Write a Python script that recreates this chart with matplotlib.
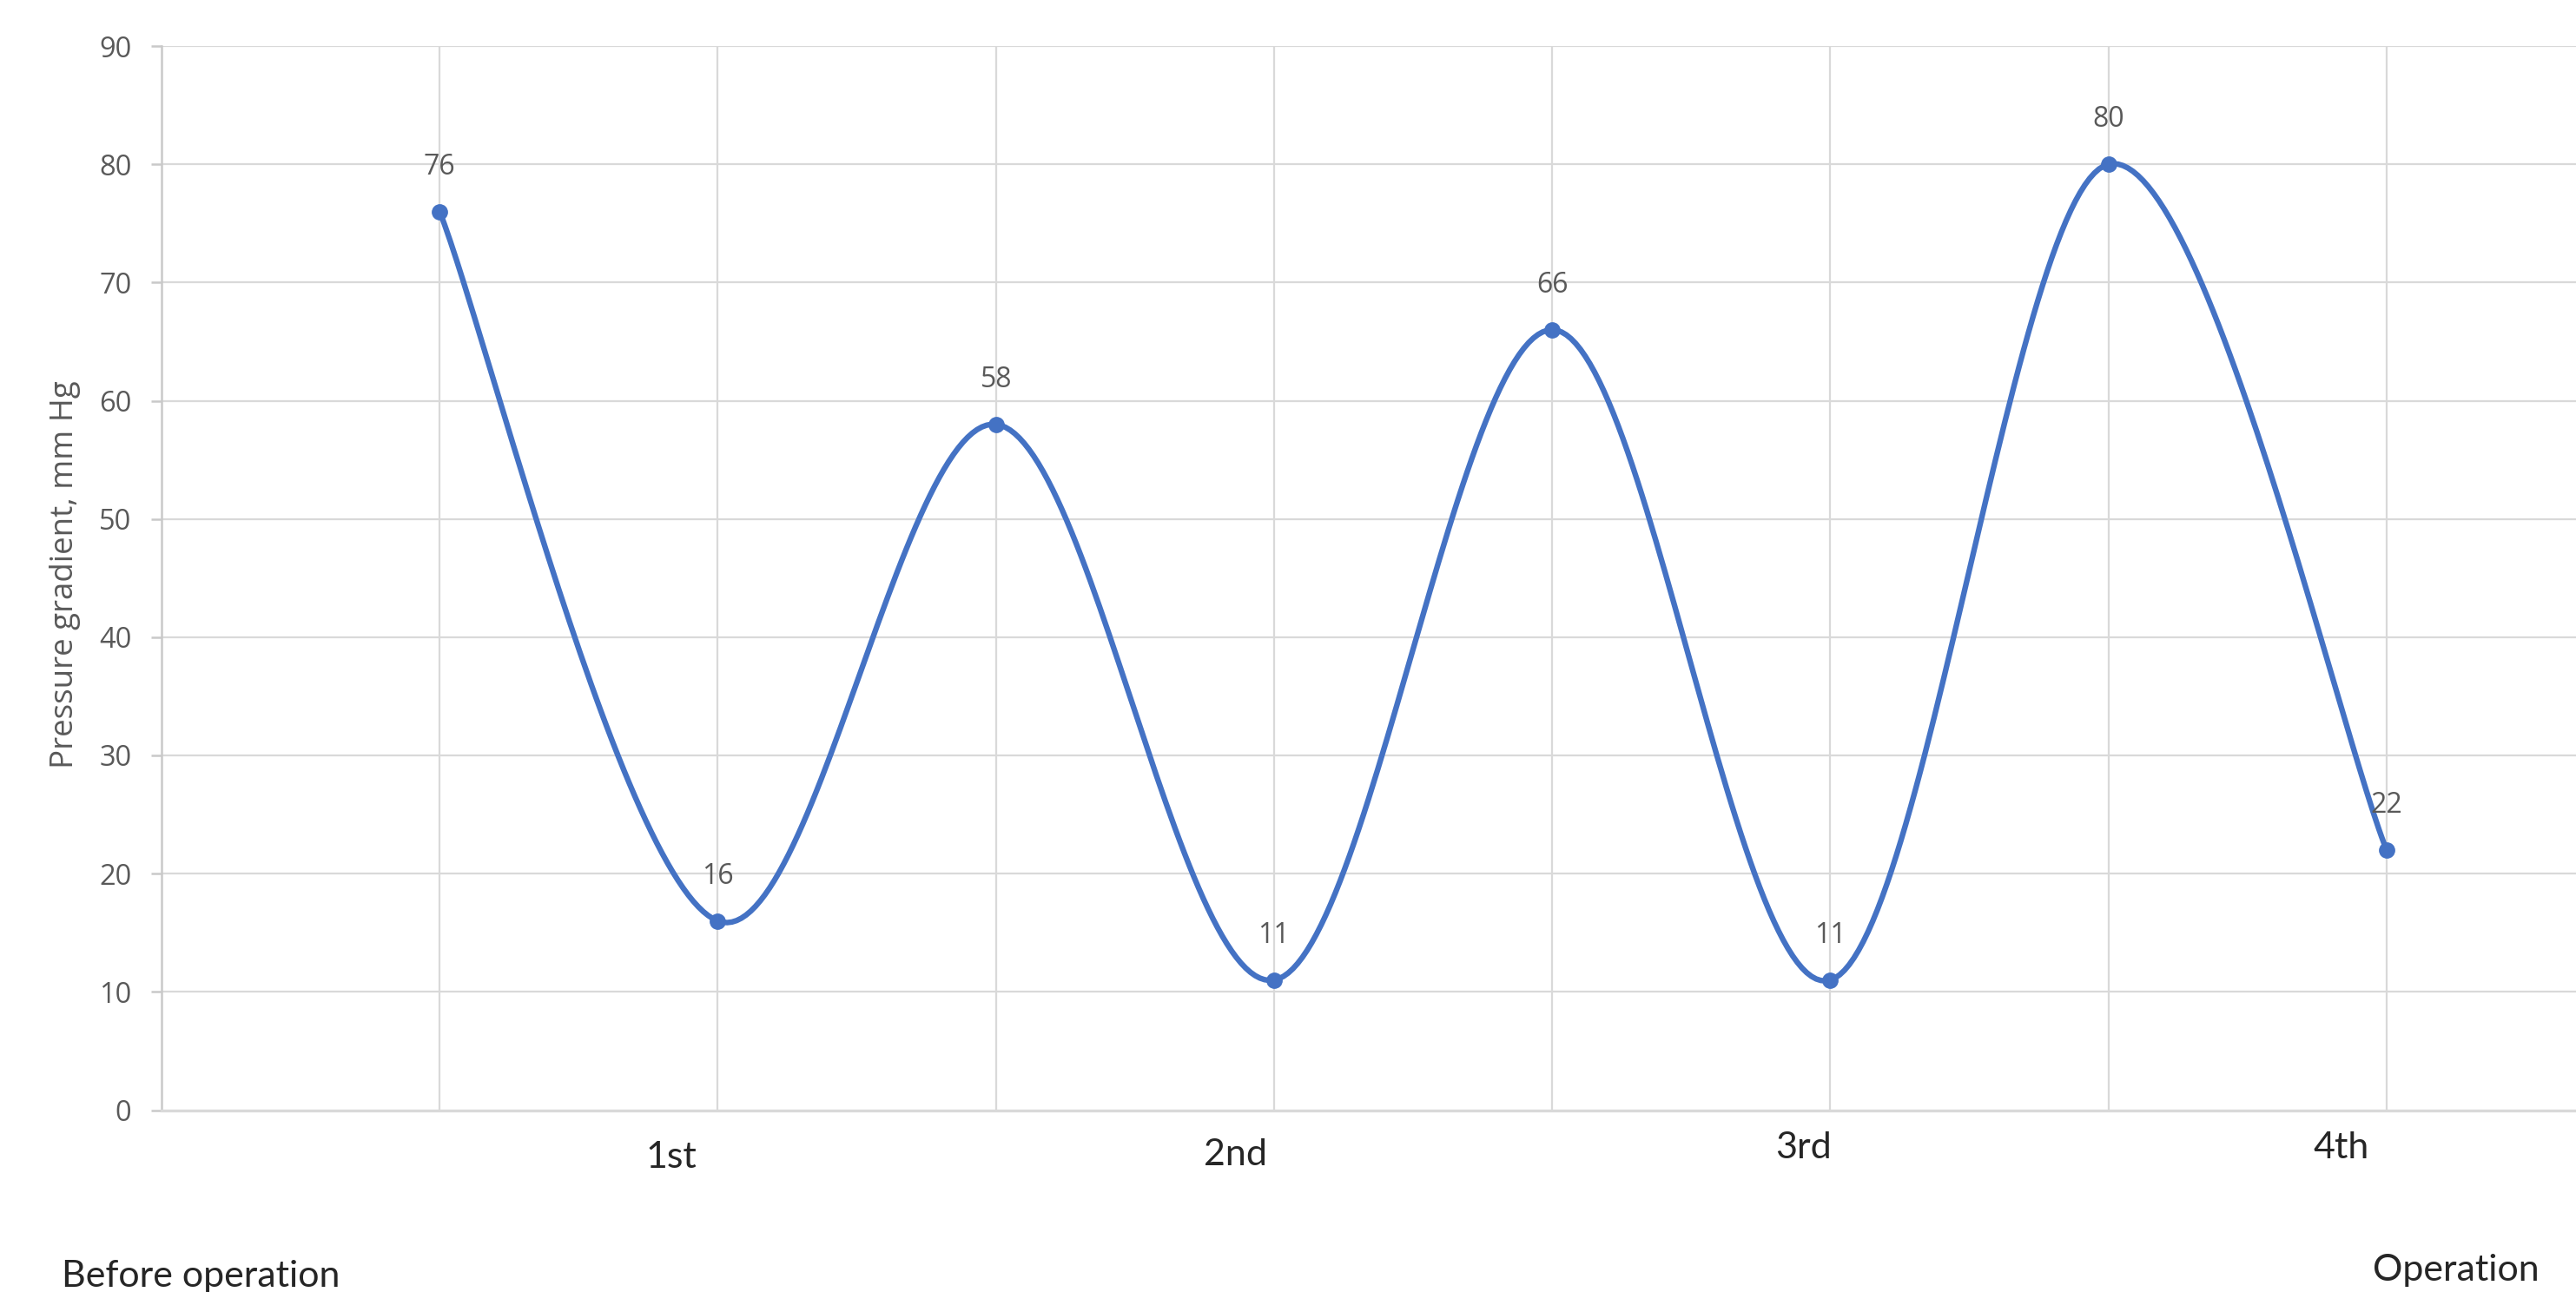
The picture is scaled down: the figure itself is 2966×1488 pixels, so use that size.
import numpy as np
import matplotlib
matplotlib.use("Agg")
import matplotlib.pyplot as plt

# ---- data ----
positions = [1, 2, 3, 4, 5, 6, 7, 8]
values = [76, 16, 58, 11, 66, 11, 80, 22]
y_ticks = [0, 10, 20, 30, 40, 50, 60, 70, 80, 90]
stage_labels = ["1st", "2nd", "3rd", "4th"]
y_label = "Pressure gradient, mm Hg"
left_note = "Before operation"
right_note = "Operation"

W, H = 2966, 1488
DPI = 100
fig = plt.figure(figsize=(W / DPI, H / DPI), dpi=DPI)
fig.patch.set_facecolor("white")

unit_px = 320.24
left_px, top_px, bottom_px = 186.0, 53.0, 1278.5
ax = fig.add_axes([left_px / W, 1 - bottom_px / H, 9 * unit_px / W, (bottom_px - top_px) / H])
ax.set_xlim(0, 9)
ax.set_ylim(0, 90)

grid_c = "#D9D9D9"
axis_c = "#C9C9C9"
for v in y_ticks[1:]:
    ax.axhline(v, color=grid_c, lw=1.6, zorder=1)
for p in positions:
    ax.axvline(p, color=grid_c, lw=1.6, zorder=1)

for s in ["top", "right"]:
    ax.spines[s].set_visible(False)
ax.spines["left"].set_color(axis_c)
ax.spines["left"].set_linewidth(1.8)
ax.spines["bottom"].set_color(grid_c)
ax.spines["bottom"].set_linewidth(2.4)

ax.set_yticks(y_ticks)
ax.set_yticklabels([str(v) for v in y_ticks])
ax.tick_params(axis="y", length=9, width=1.8, color=axis_c, pad=16,
               labelsize=23.5, labelcolor="#595959")
for t in ax.get_yticklabels():
    t.set_family("Open Sans")
ax.set_xticks([])

# Excel-like smoothed line (Bezier with 1/6 tangents)
x = np.array(positions, dtype=float)
y = np.array(values, dtype=float)
n = len(x)
xs, ys = [], []
tt = np.linspace(0, 1, 60)
for i in range(n - 1):
    p0 = np.array([x[i], y[i]])
    p3 = np.array([x[i + 1], y[i + 1]])
    pm = np.array([x[i - 1], y[i - 1]]) if i > 0 else p0
    pp = np.array([x[i + 2], y[i + 2]]) if i + 2 < n else p3
    c1 = p0 + (p3 - pm) / 6.0
    c2 = p3 - (pp - p0) / 6.0
    b = ((1 - tt) ** 3)[:, None] * p0 + (3 * (1 - tt) ** 2 * tt)[:, None] * c1 \
        + (3 * (1 - tt) * tt ** 2)[:, None] * c2 + (tt ** 3)[:, None] * p3
    xs.extend(b[:, 0])
    ys.extend(b[:, 1])

line_c = "#4472C4"
ax.plot(xs, ys, color=line_c, lw=4.6, zorder=3, solid_capstyle="round")
ax.plot(x, y, "o", color=line_c, ms=12.5, zorder=4)

for xi, yi in zip(positions, values):
    ax.annotate(str(yi), (xi, yi), xytext=(0, 37), textcoords="offset points",
                ha="center", va="center", fontsize=23, color="#595959",
                family="Open Sans", zorder=5)

fig.text(75 / W, 1 - 662 / H, y_label, rotation=90, ha="center", va="center",
         fontsize=26.5, color="#595959", family="Open Sans")

label_pos = [(773, 1333), (1422, 1330), (2077, 1322), (2696, 1322)]
for lab, (px, py) in zip(stage_labels, label_pos):
    fig.text(px / W, 1 - py / H, lab, ha="center", va="center",
             fontsize=31, color="#262626", family="Lato")

fig.text(71 / W, 1 - 1482 / H, left_note, ha="left", va="baseline",
         fontsize=31, color="#262626", family="Lato")
fig.text(2732 / W, 1 - 1475 / H, right_note, ha="left", va="baseline",
         fontsize=31, color="#262626", family="Lato")

fig.savefig("out.png", dpi=DPI, facecolor="white")
